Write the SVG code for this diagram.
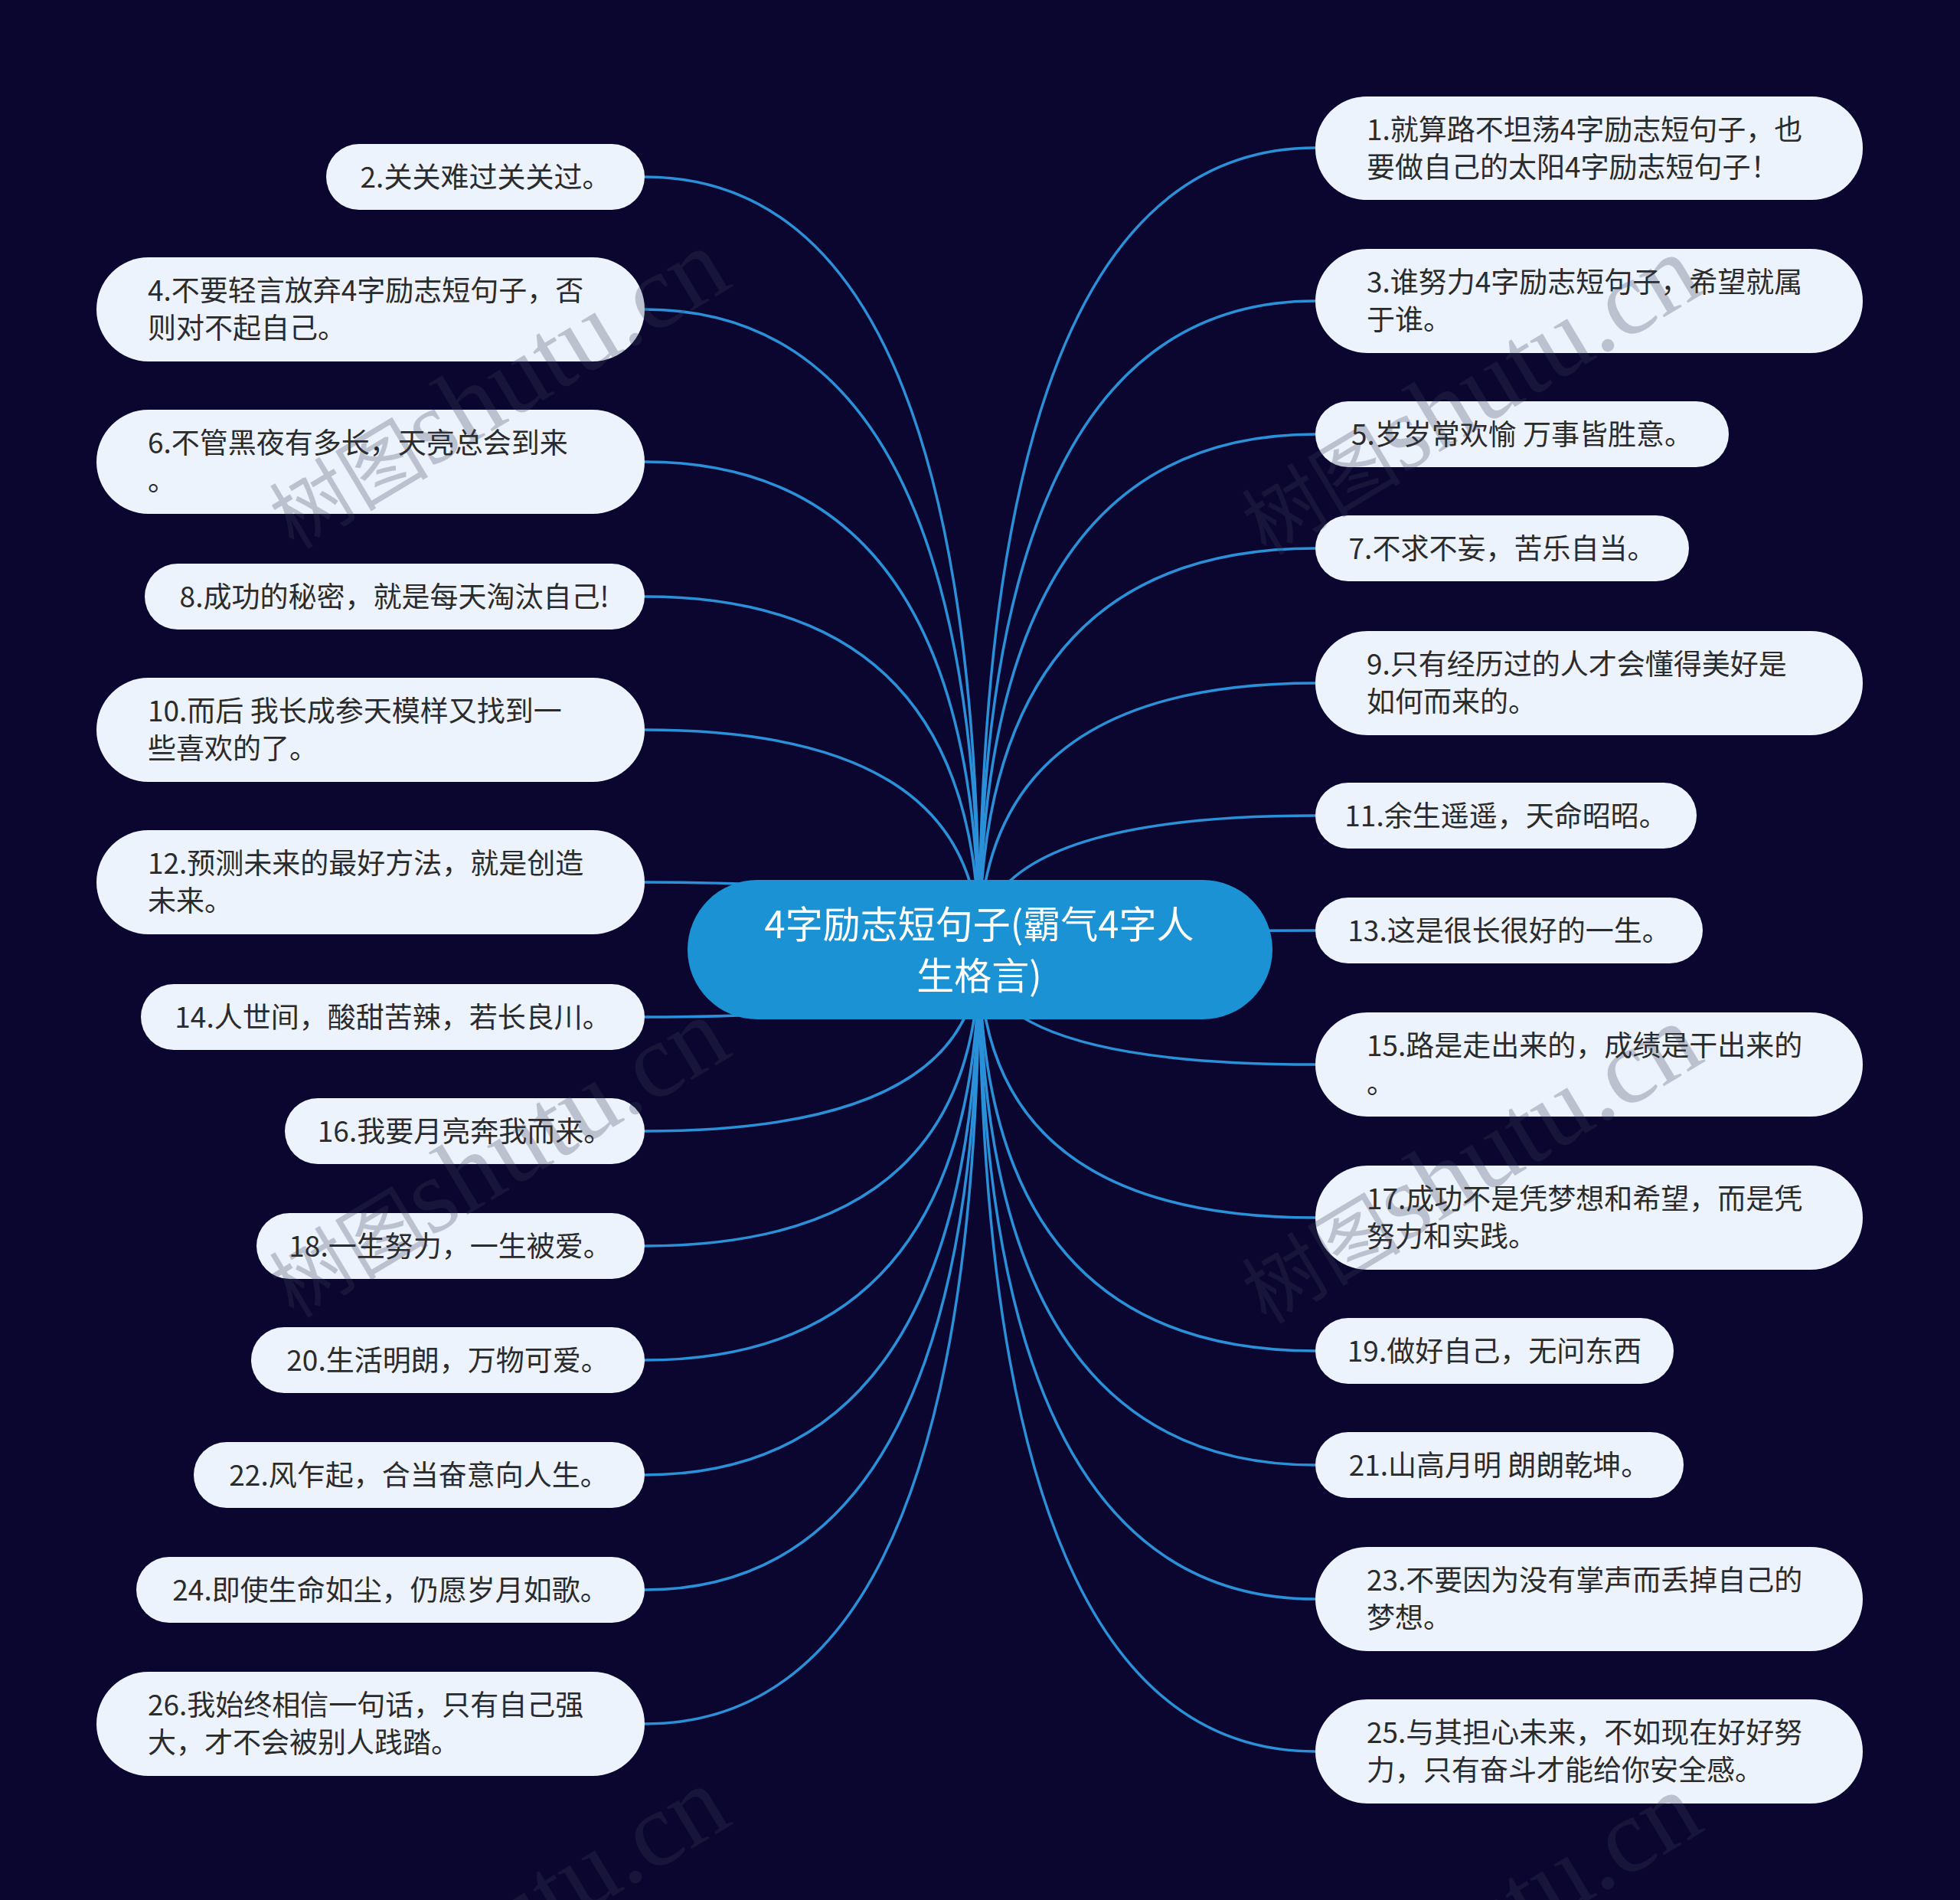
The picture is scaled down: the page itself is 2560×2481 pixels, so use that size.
<svg xmlns="http://www.w3.org/2000/svg" width="2560" height="2481" viewBox="0 0 2560 2481">
<style>
.edge{fill:none;stroke:#2a91d8;stroke-width:3.5}
.node rect{fill:#edf3fd}
.node text{font-family:"Noto Sans CJK SC","Noto Sans",sans-serif;font-size:37px;fill:#2b2b2b}
.c{text-anchor:middle}
.root rect{fill:#1a92d3}
.root text{font-family:"Noto Sans CJK SC","Noto Sans",sans-serif;font-size:49px;fill:#ffffff;text-anchor:middle}
.wm{font-family:"Liberation Serif","Noto Sans CJK SC",serif;font-size:138px;fill:#3a3f55;opacity:.27;text-anchor:middle}
</style>
<rect width="2560" height="2481" fill="#0b0630"/>
<g id="connectors">
<path class="edge" d="M1279 1240 Q1279 193 1718 193"/>
<path class="edge" d="M1279 1240 Q1279 393 1718 393"/>
<path class="edge" d="M1279 1240 Q1279 567 1718 567"/>
<path class="edge" d="M1279 1240 Q1279 716 1718 716"/>
<path class="edge" d="M1279 1240 Q1279 892 1718 892"/>
<path class="edge" d="M1279 1240 Q1279 1065 1718 1065"/>
<path class="edge" d="M1279 1240 Q1279 1215 1718 1215"/>
<path class="edge" d="M1279 1240 Q1279 1390 1718 1390"/>
<path class="edge" d="M1279 1240 Q1279 1590 1718 1590"/>
<path class="edge" d="M1279 1240 Q1279 1764 1718 1764"/>
<path class="edge" d="M1279 1240 Q1279 1913 1718 1913"/>
<path class="edge" d="M1279 1240 Q1279 2088 1718 2088"/>
<path class="edge" d="M1279 1240 Q1279 2287 1718 2287"/>
<path class="edge" d="M1279 1240 Q1279 231 842 231"/>
<path class="edge" d="M1279 1240 Q1279 404 842 404"/>
<path class="edge" d="M1279 1240 Q1279 603 842 603"/>
<path class="edge" d="M1279 1240 Q1279 779 842 779"/>
<path class="edge" d="M1279 1240 Q1279 953 842 953"/>
<path class="edge" d="M1279 1240 Q1279 1152 842 1152"/>
<path class="edge" d="M1279 1240 Q1279 1328 842 1328"/>
<path class="edge" d="M1279 1240 Q1279 1477 842 1477"/>
<path class="edge" d="M1279 1240 Q1279 1627 842 1627"/>
<path class="edge" d="M1279 1240 Q1279 1776 842 1776"/>
<path class="edge" d="M1279 1240 Q1279 1926 842 1926"/>
<path class="edge" d="M1279 1240 Q1279 2076 842 2076"/>
<path class="edge" d="M1279 1240 Q1279 2251 842 2251"/>
</g>
<g id="root" class="root">
<rect x="898" y="1149" width="764" height="182" rx="91"/>
<text x="1279" y="1225">4字励志短句子(霸气4字人</text>
<text x="1279" y="1292">生格言)</text>
</g>
<g id="n1" class="node"><rect x="1718" y="126" width="715" height="135" rx="67"/><text x="1785" y="183">1.就算路不坦荡4字励志短句子，也</text><text x="1785" y="232">要做自己的太阳4字励志短句子！</text></g>
<g id="n3" class="node"><rect x="1718" y="325" width="715" height="136" rx="68"/><text x="1785" y="382">3.谁努力4字励志短句子，希望就属</text><text x="1785" y="431">于谁。</text></g>
<g id="n5" class="node"><rect x="1718" y="524" width="540" height="86" rx="43"/><text class="c" x="1988" y="581">5.岁岁常欢愉 万事皆胜意。</text></g>
<g id="n7" class="node"><rect x="1718" y="673" width="488" height="86" rx="43"/><text class="c" x="1962" y="730">7.不求不妄，苦乐自当。</text></g>
<g id="n9" class="node"><rect x="1718" y="824" width="715" height="136" rx="68"/><text x="1785" y="881">9.只有经历过的人才会懂得美好是</text><text x="1785" y="930">如何而来的。</text></g>
<g id="n11" class="node"><rect x="1718" y="1022" width="498" height="86" rx="43"/><text class="c" x="1967" y="1079">11.余生遥遥，天命昭昭。</text></g>
<g id="n13" class="node"><rect x="1718" y="1172" width="506" height="86" rx="43"/><text class="c" x="1971" y="1229">13.这是很长很好的一生。</text></g>
<g id="n15" class="node"><rect x="1718" y="1322" width="715" height="136" rx="68"/><text x="1785" y="1379">15.路是走出来的，成绩是干出来的</text><text x="1785" y="1428">。</text></g>
<g id="n17" class="node"><rect x="1718" y="1522" width="715" height="136" rx="68"/><text x="1785" y="1579">17.成功不是凭梦想和希望，而是凭</text><text x="1785" y="1628">努力和实践。</text></g>
<g id="n19" class="node"><rect x="1718" y="1721" width="468" height="86" rx="43"/><text class="c" x="1952" y="1778">19.做好自己，无问东西</text></g>
<g id="n21" class="node"><rect x="1718" y="1870" width="481" height="86" rx="43"/><text class="c" x="1958" y="1927">21.山高月明 朗朗乾坤。</text></g>
<g id="n23" class="node"><rect x="1718" y="2020" width="715" height="136" rx="68"/><text x="1785" y="2077">23.不要因为没有掌声而丢掉自己的</text><text x="1785" y="2126">梦想。</text></g>
<g id="n25" class="node"><rect x="1718" y="2219" width="715" height="136" rx="68"/><text x="1785" y="2276">25.与其担心未来，不如现在好好努</text><text x="1785" y="2325">力，只有奋斗才能给你安全感。</text></g>
<g id="n2" class="node"><rect x="426" y="188" width="416" height="86" rx="43"/><text class="c" x="634" y="245">2.关关难过关关过。</text></g>
<g id="n4" class="node"><rect x="126" y="336" width="716" height="136" rx="68"/><text x="193" y="393">4.不要轻言放弃4字励志短句子，否</text><text x="193" y="442">则对不起自己。</text></g>
<g id="n6" class="node"><rect x="126" y="535" width="716" height="136" rx="68"/><text x="193" y="592">6.不管黑夜有多长，天亮总会到来</text><text x="193" y="641">。</text></g>
<g id="n8" class="node"><rect x="189" y="736" width="653" height="86" rx="43"/><text class="c" x="515" y="793">8.成功的秘密，就是每天淘汰自己!</text></g>
<g id="n10" class="node"><rect x="126" y="885" width="716" height="136" rx="68"/><text x="193" y="942">10.而后 我长成参天模样又找到一</text><text x="193" y="991">些喜欢的了。</text></g>
<g id="n12" class="node"><rect x="126" y="1084" width="716" height="136" rx="68"/><text x="193" y="1141">12.预测未来的最好方法，就是创造</text><text x="193" y="1190">未来。</text></g>
<g id="n14" class="node"><rect x="184" y="1285" width="658" height="86" rx="43"/><text class="c" x="513" y="1342">14.人世间，酸甜苦辣，若长良川。</text></g>
<g id="n16" class="node"><rect x="372" y="1434" width="470" height="86" rx="43"/><text class="c" x="607" y="1491">16.我要月亮奔我而来。</text></g>
<g id="n18" class="node"><rect x="335" y="1584" width="507" height="86" rx="43"/><text class="c" x="588" y="1641">18.一生努力，一生被爱。</text></g>
<g id="n20" class="node"><rect x="328" y="1733" width="514" height="86" rx="43"/><text class="c" x="585" y="1790">20.生活明朗，万物可爱。</text></g>
<g id="n22" class="node"><rect x="253" y="1883" width="589" height="86" rx="43"/><text class="c" x="547" y="1940">22.风乍起，合当奋意向人生。</text></g>
<g id="n24" class="node"><rect x="178" y="2033" width="664" height="86" rx="43"/><text class="c" x="510" y="2090">24.即使生命如尘，仍愿岁月如歌。</text></g>
<g id="n26" class="node"><rect x="126" y="2183" width="716" height="136" rx="68"/><text x="193" y="2240">26.我始终相信一句话，只有自己强</text><text x="193" y="2289">大，才不会被别人践踏。</text></g>
<g id="watermarks">
<text class="wm" transform="translate(648 506) rotate(-31)" y="46"><tspan font-size="104">树图</tspan>shutu.cn</text>
<text class="wm" transform="translate(1918 514) rotate(-31)" y="46"><tspan font-size="104">树图</tspan>shutu.cn</text>
<text class="wm" transform="translate(648 1510) rotate(-31)" y="46"><tspan font-size="104">树图</tspan>shutu.cn</text>
<text class="wm" transform="translate(1918 1518) rotate(-31)" y="46"><tspan font-size="104">树图</tspan>shutu.cn</text>
<text class="wm" transform="translate(648 2514) rotate(-31)" y="46"><tspan font-size="104">树图</tspan>shutu.cn</text>
<text class="wm" transform="translate(1918 2522) rotate(-31)" y="46"><tspan font-size="104">树图</tspan>shutu.cn</text>
</g>
</svg>
